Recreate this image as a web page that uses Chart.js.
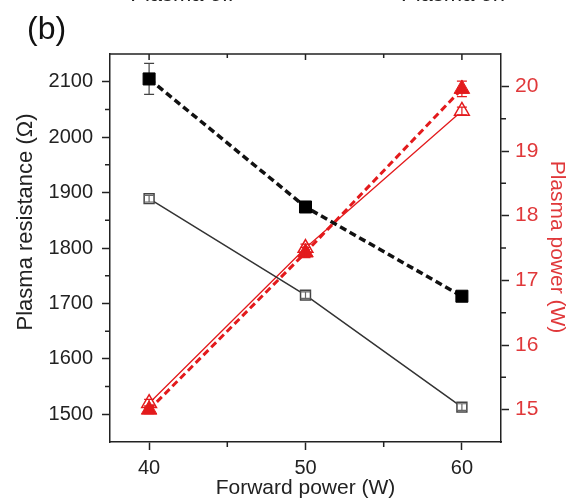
<!DOCTYPE html>
<html>
<head>
<meta charset="utf-8">
<script src="https://cdn.jsdelivr.net/npm/chart.js@4"></script>
<style>
	html, body { margin: 0; padding: 0; background: #fff; }
</style>
</head>
<body>
<canvas id="myChart" width="569" height="499"></canvas>
<script>
(() => {
	'use strict'

	// values
	const forwardPower = [40, 50, 60]
	const resistanceFilled = [2105, 1874, 1713]
	const resistanceFilledErr = [28, 5, 5]
	const resistanceOpen = [1889, 1715, 1513]
	const resistanceOpenErr = [6, 6, 6]
	const powerFilled = [15.0, 17.43, 19.96]
	const powerFilledErr = [0.06, 0.08, 0.12]
	const powerOpen = [15.1, 17.5, 19.62]
	const powerOpenErr = [0.06, 0.06, 0.06]

	const xTicks = [40, 50, 60]
	const xMinor = [45, 55]
	const resTicks = [1500, 1600, 1700, 1800, 1900, 2000, 2100]
	const resMinor = [1550, 1650, 1750, 1850, 1950, 2050]
	const powTicks = [15, 16, 17, 18, 19, 20]
	const powMinor = [15.5, 16.5, 17.5, 18.5, 19.5]

	const RED = '#e31a1c'
	const RED_TEXT = '#e0383a'
	const AXIS = '#222'
	const FONT = 'Liberation Sans, Arial, sans-serif'

	const pts = (ys) => forwardPower.map((x, i) => ({ x: x, y: ys[i] }))

	// error bars, drawn with the chart's own scales
	function drawErrors(chart, behind) {
		const ctx = chart.ctx
		chart.data.datasets.forEach(ds => {
			if (!ds.errors || !!ds.errBehind !== behind) return
			const xs = chart.scales.x
			const ys = chart.scales[ds.yAxisID]
			ctx.save()
			ctx.strokeStyle = ds.errColor
			ctx.lineWidth = 1.2
			ds.data.forEach((p, i) => {
				const px = xs.getPixelForValue(p.x)
				const y1 = ys.getPixelForValue(p.y + ds.errors[i])
				const y2 = ys.getPixelForValue(p.y - ds.errors[i])
				ctx.beginPath()
				ctx.moveTo(px, y1); ctx.lineTo(px, y2)
				ctx.moveTo(px - 5, y1); ctx.lineTo(px + 5, y1)
				ctx.moveTo(px - 5, y2); ctx.lineTo(px + 5, y2)
				ctx.stroke()
			})
			ctx.restore()
		})
	}
	const errorBars = {
		id: 'errorBars',
		beforeDatasetsDraw(chart) { drawErrors(chart, true) },
		afterDatasetsDraw(chart) { drawErrors(chart, false) }
	}

	// minor ticks, top frame and free text
	const frame = {
		id: 'frame',
		afterDraw(chart) {
			const ctx = chart.ctx
			const a = chart.chartArea
			const x = chart.scales.x, y = chart.scales.y, y1 = chart.scales.y1
			ctx.save()
			ctx.strokeStyle = AXIS
			ctx.lineWidth = 1.5
			ctx.beginPath()
			ctx.moveTo(a.left, a.top); ctx.lineTo(a.right, a.top)
			xTicks.forEach(v => { const p = x.getPixelForValue(v); ctx.moveTo(p, a.top); ctx.lineTo(p, a.top + 6) })
			xMinor.forEach(v => {
				const p = x.getPixelForValue(v)
				ctx.moveTo(p, a.top); ctx.lineTo(p, a.top + 4)
				ctx.moveTo(p, a.bottom); ctx.lineTo(p, a.bottom + 5)
			})
			resMinor.forEach(v => { const p = y.getPixelForValue(v); ctx.moveTo(a.left - 5, p); ctx.lineTo(a.left, p) })
			powMinor.forEach(v => { const p = y1.getPixelForValue(v); ctx.moveTo(a.right, p); ctx.lineTo(a.right + 5, p) })
			ctx.stroke()

			ctx.fillStyle = '#111'
			ctx.font = '32px ' + FONT
			ctx.textAlign = 'left'
			ctx.textBaseline = 'alphabetic'
			ctx.fillText('(b)', 27, 39)

			ctx.font = '22px ' + FONT
			ctx.textAlign = 'center'
			ctx.fillStyle = '#222'
			ctx.fillText('Plasma off', 182, 1)
			ctx.fillText('Plasma on', 453, 1)

			ctx.font = '21px ' + FONT
			ctx.textBaseline = 'middle'
			ctx.fillText('Forward power (W)', (a.left + a.right) / 2, 488)

			ctx.save()
			ctx.font = '22px ' + FONT
			ctx.translate(26, 222)
			ctx.rotate(-Math.PI / 2)
			ctx.fillText('Plasma resistance (\u03a9)', 0, 0)
			ctx.restore()

			ctx.save()
			ctx.fillStyle = RED_TEXT
			ctx.translate(557, 247)
			ctx.rotate(Math.PI / 2)
			ctx.fillText('Plasma power (W)', 0, 0)
			ctx.restore()
			ctx.restore()
		}
	}

	const ctx = document.getElementById('myChart')
	// eslint-disable-next-line no-unused-vars
	const myChart = new Chart(ctx, {
		type: 'line',
		data: {
			datasets: [{
				label: 'Resistance (filled)',
				data: pts(resistanceFilled),
				yAxisID: 'y',
				borderColor: '#111',
				borderWidth: 3.5,
				borderDash: [7, 4],
				pointStyle: 'rect',
				pointRadius: 8.5,
				pointBackgroundColor: '#000',
				pointBorderColor: '#000',
				pointBorderWidth: 1,
				errors: resistanceFilledErr,
				errBehind: true,
				errColor: '#444'
			}, {
				label: 'Resistance (open)',
				data: pts(resistanceOpen),
				yAxisID: 'y',
				borderColor: '#333',
				borderWidth: 1.5,
				pointStyle: 'rect',
				pointRadius: 7,
				pointBackgroundColor: '#fff',
				pointBorderColor: '#444',
				pointBorderWidth: 1.5,
				errors: resistanceOpenErr,
				errColor: '#666'
			}, {
				label: 'Power (filled)',
				data: pts(powerFilled),
				yAxisID: 'y1',
				borderColor: RED,
				borderWidth: 3,
				borderDash: [7, 4],
				pointStyle: 'triangle',
				pointRadius: 9,
				pointBackgroundColor: RED,
				pointBorderColor: RED,
				pointBorderWidth: 1,
				errors: powerFilledErr,
				errColor: RED
			}, {
				label: 'Power (open)',
				data: pts(powerOpen),
				yAxisID: 'y1',
				borderColor: RED,
				borderWidth: 1.3,
				pointStyle: 'triangle',
				pointRadius: 8.5,
				pointBackgroundColor: '#fff',
				pointBorderColor: RED,
				pointBorderWidth: 1.5,
				errors: powerOpenErr,
				errColor: RED
			}]
		},
		options: {
			responsive: false,
			animation: false,
			devicePixelRatio: 1,
			layout: { padding: { top: 54, left: 0, right: 0, bottom: 0 } },
			plugins: {
				legend: { display: false },
				tooltip: { enabled: false }
			},
			scales: {
				x: {
					type: 'linear',
					position: 'bottom',
					min: 37.5,
					max: 62.5,
					afterBuildTicks: s => { s.ticks = xTicks.map(v => ({ value: v })) },
					afterFit: s => { s.height = 57 },
					grid: { drawOnChartArea: false, tickLength: 8, tickColor: AXIS, tickWidth: 1.5 },
					border: { color: AXIS, width: 1.5 },
					ticks: { color: '#222', padding: 6, font: { family: FONT, size: 20 }, callback: v => String(v) }
				},
				y: {
					type: 'linear',
					position: 'left',
					min: 1450,
					max: 2150,
					afterBuildTicks: s => { s.ticks = resTicks.map(v => ({ value: v })) },
					afterFit: s => { s.width = 110 },
					grid: { drawOnChartArea: false, tickLength: 8, tickColor: AXIS, tickWidth: 1.5 },
					border: { color: AXIS, width: 1.5 },
					ticks: { color: '#222', padding: 9, font: { family: FONT, size: 20 }, callback: v => String(v) }
				},
				y1: {
					type: 'linear',
					position: 'right',
					min: 14.5,
					max: 20.5,
					afterBuildTicks: s => { s.ticks = powTicks.map(v => ({ value: v })) },
					afterFit: s => { s.width = 68 },
					grid: { drawOnChartArea: false, tickLength: 8, tickColor: AXIS, tickWidth: 1.5 },
					border: { color: AXIS, width: 1.5 },
					ticks: { color: RED_TEXT, padding: 6, font: { family: FONT, size: 21 }, callback: v => String(v) }
				}
			}
		},
		plugins: [errorBars, frame]
	})
})()
</script>
</body>
</html>
